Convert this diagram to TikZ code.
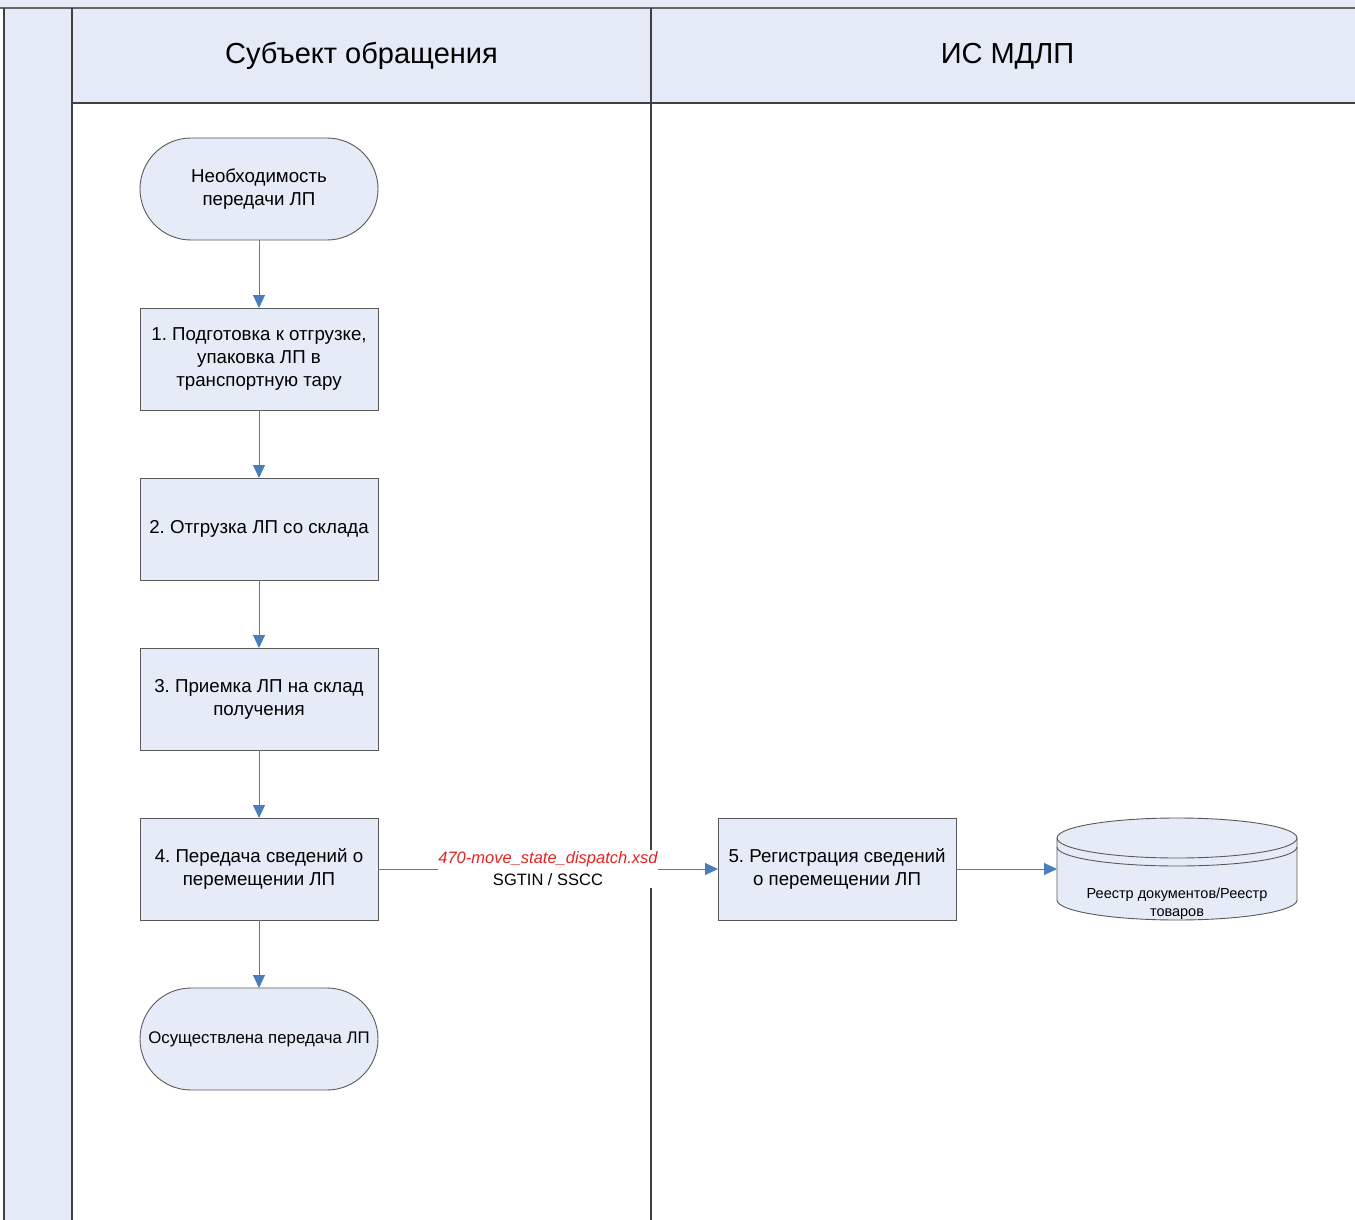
\documentclass[tikz,border=0pt]{standalone}
\usepackage{fontspec}
\setmainfont{Liberation Sans}
\usetikzlibrary{positioning,arrows.meta}
\definecolor{lanefill}{HTML}{E5EBF6}
\definecolor{boxfill}{HTML}{E6ECF7}
\definecolor{flowblue}{HTML}{4A7EBB}
\definecolor{xsdred}{HTML}{E02424}
\frenchspacing

\begin{document}
\begin{tikzpicture}[
  x=1pt, y=-1pt,
  lane/.style={draw=black!75, line width=1.1pt},
  box/.style={draw=black!65, line width=0.9pt, fill=boxfill, minimum width=238pt, minimum height=102pt, outer sep=0pt, align=center, inner sep=1pt, font=\fontsize{18.7}{23}\selectfont},
  term/.style={box, rounded corners=51pt},
  head/.style={font=\fontsize{29}{34}\selectfont},
  dbshape/.style={minimum width=240pt, minimum height=102pt, inner sep=0pt, outer sep=0pt},
  dbtext/.style={align=center, inner sep=0pt, font=\fontsize{14.5}{18}\selectfont},
  flowlbl/.style={fill=white, align=center, inner xsep=0pt, inner ysep=2pt, font=\fontsize{16.5}{22}\selectfont},
  arrow/.style={draw=flowblue, line width=1pt, -{Triangle[length=13pt, width=12pt]}}
]
\useasboundingbox (0,0) rectangle (1355,1220);
\fill[lanefill] (0,0) rectangle (1355,8);
\fill[lanefill] (4,8) rectangle (72,1220);
\fill[lanefill] (72,8) rectangle (1355,103);
\draw[lane, line width=2pt, draw=black!60] (0,8) -- (1355,8);
\draw[lane] (4,8) -- (4,1220);
\draw[lane] (72,8) -- (72,1220);
\draw[lane] (651,8) -- (651,1220);
\draw[lane] (72,103) -- (1355,103);
\node[head] (subj) at (361.5,56) {Субъект обращения};
\node[head] (mdlp) at (1007.5,56) {ИС МДЛП};

\node[term] (need) at (259,189) {Необходимость\\передачи ЛП};
\node[box, below=68pt of need] (prep) {1. Подготовка к отгрузке,\\упаковка ЛП в\\транспортную тару};
\node[box, below=68pt of prep] (ship) {2. Отгрузка ЛП со склада};
\node[box, below=68pt of ship] (recv) {3. Приемка ЛП на склад\\получения};
\node[box, below=68pt of recv] (send) {4. Передача сведений о\\перемещении ЛП};
\node[term, below=68pt of send, font=\fontsize{16.8}{21}\selectfont] (done) {Осуществлена передача ЛП};
\node[box, right=340pt of send] (reg) {5. Регистрация сведений\\о перемещении ЛП};
\node[dbshape, right=101pt of reg] (db) {};

\draw[draw=black!65, line width=0.9pt, fill=boxfill] ([yshift=-20pt]db.north west) -- ([yshift=20pt]db.south west)
  arc[start angle=180, end angle=360, x radius=120pt, y radius=20pt] -- ([yshift=-20pt]db.north east)
  arc[start angle=0, end angle=180, x radius=120pt, y radius=20pt] -- cycle;
\draw[draw=black!65, line width=0.9pt] ([yshift=-20pt]db.north west) arc[start angle=180, end angle=360, x radius=120pt, y radius=20pt];
\draw[draw=black!65, line width=0.9pt] ([yshift=-29pt]db.north west) arc[start angle=180, end angle=360, x radius=120pt, y radius=19pt];
\node[dbtext] (dbtxt) at ([yshift=-35pt]db.center) {Реестр документов/Реестр\\товаров};

\draw[arrow] (need) -- (prep);
\draw[arrow] (prep) -- (ship);
\draw[arrow] (ship) -- (recv);
\draw[arrow] (recv) -- (send);
\draw[arrow] (send) -- (done);
\draw[arrow] (send) -- node[flowlbl] {\textcolor{xsdred}{\itshape 470-move\_state\_dispatch.xsd}\\SGTIN / SSCC} (reg);
\draw[arrow] (reg) -- (db);
\end{tikzpicture}
\end{document}
